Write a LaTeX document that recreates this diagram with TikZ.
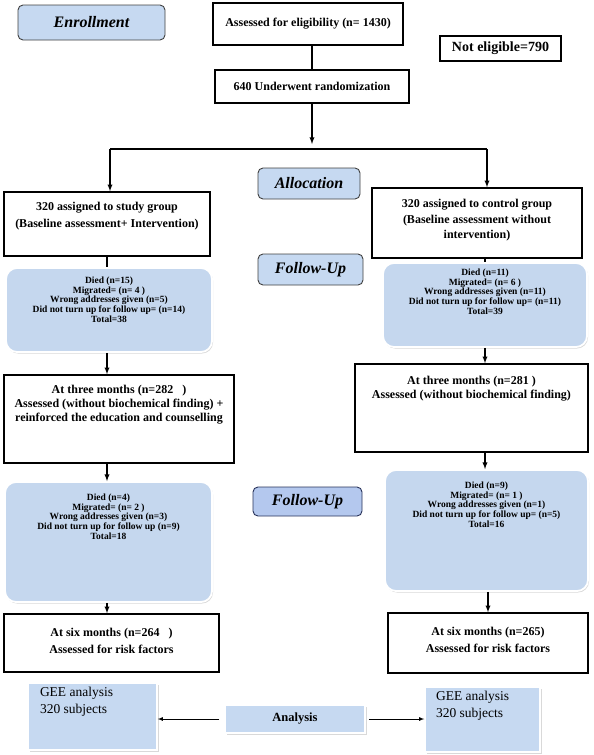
\documentclass[tikz,border=0pt]{standalone}
\usepackage{fontspec}
\setmainfont{Liberation Serif}[BoldFont={Liberation Serif Bold}, ItalicFont={Liberation Serif Italic}, BoldItalicFont={Liberation Serif Bold Italic}]
\usepackage{xcolor}
\usepackage{tikz}
\usetikzlibrary{positioning, shapes, calc, arrows, shadows}
\definecolor{paleblue}{RGB}{198,217,241}
\definecolor{noteblue}{RGB}{197,215,238}
\definecolor{deepblue}{RGB}{180,200,238}
\definecolor{navyline}{RGB}{40,50,90}

\newcommand{\topbox}[4]{\parbox[c][#2][t]{#1}{\centering\vspace*{#3}#4}}
\newcommand{\leftbox}[4]{\parbox[c][#2][t]{#1}{\raggedright\vspace*{#3}#4}}

\begin{document}
\begin{tikzpicture}[x=1pt, y=-1pt,
	plain/.style={draw, line width=1.6pt, inner sep=0pt, fill=white, font=\fontsize{12}{15}\selectfont\bfseries},
	phase/.style={draw=black!75, line width=0.9pt, rounded corners=5pt, fill=paleblue, inner sep=0pt, font=\fontsize{16}{18}\selectfont\bfseries\itshape},
	note/.style={draw=white, line width=1.8pt, rounded corners=11pt, fill=noteblue, inner sep=0pt, drop shadow={shadow xshift=1pt, shadow yshift=-1.5pt, opacity=0.3}, font=\fontsize{9.5}{7}\selectfont\bfseries},
	gee/.style={draw=white, line width=1.5pt, fill=paleblue, inner sep=0pt, drop shadow={shadow xshift=1.5pt, shadow yshift=-1.5pt, opacity=0.3}, font=\fontsize{13.5}{17}\selectfont},
	arr/.style={-latex, line width=1.3pt},
	link/.style={line width=1.3pt},
	thinarr/.style={-latex, line width=0.8pt}]
	\useasboundingbox (0,0) rectangle (594,755);
	
	\node[phase, minimum width=147pt, minimum height=35pt] (enroll) at (91.5,22.5) {Enrollment};
	\node[plain, minimum width=190pt, minimum height=42pt] (assess) at (308,24) {Assessed for eligibility (n= 1430)};
	\node[plain, line width=1.2pt, minimum width=121pt, minimum height=25pt, font=\fontsize{14}{16}\selectfont\bfseries] (excluded) at (500.5,48.5) {Not eligible=790};
	\node[plain, minimum width=194pt, minimum height=33pt] (random) at (312,86.5) {640 Underwent randomization};
	\node[phase, minimum width=102pt, minimum height=31pt] (alloc) at (309,183.5) {Allocation};
	
	\node[plain] (study) at (107,224) {\topbox{206pt}{64pt}{10pt}{320 assigned to study group\\[2pt](Baseline assessment+ Intervention)}};
	\node[plain] (control) at (477,223) {\topbox{210pt}{70pt}{11pt}{320 assigned to control group\\[1pt](Baseline assessment without\\intervention)}};
	
	\node[phase, minimum width=105pt, minimum height=31pt] (follow) at (310.5,269.5) {Follow-Up};
	\node[note] (lossA) at (109,310) {\topbox{206pt}{84pt}{9pt}{Died (n=15)\\Migrated= (n= 4 )\\Wrong addresses given (n=5)\\Did not turn up for follow up= (n=14)\\Total=38}};
	\node[note] (lossB) at (485,305) {\topbox{204pt}{84pt}{6pt}{Died (n=11)\\Migrated= (n= 6 )\\Wrong addresses given (n=11)\\Did not turn up for follow up= (n=11)\\Total=39}};
	
	\node[plain, font=\fontsize{12}{14}\selectfont\bfseries] (threeA) at (119,419) {\topbox{230pt}{88pt}{10pt}{At three months (n=282\ \ \ )\\Assessed (without biochemical finding) +\\reinforced the education and counselling}};
	\node[plain, font=\fontsize{12}{14}\selectfont\bfseries] (threeB) at (471.5,408) {\topbox{233pt}{88pt}{12pt}{At three months (n=281 )\\Assessed (without biochemical finding)}};
	
	\node[phase, draw=navyline, fill=deepblue, minimum width=109pt, minimum height=29pt] (followB) at (307.5,501.5) {Follow-Up};
	\node[note] (lossC) at (108.5,542) {\topbox{207pt}{120pt}{12pt}{Died (n=4)\\Migrated= (n= 2 )\\Wrong addresses given (n=3)\\Did not turn up for follow up (n=9)\\Total=18}};
	\node[note] (lossD) at (486.5,530.5) {\topbox{203pt}{121pt}{12pt}{Died (n=9)\\Migrated= (n= 1 )\\Wrong addresses given (n=1)\\Did not turn up for follow up= (n=5)\\Total=16}};
	
	\node[plain, font=\fontsize{12}{17}\selectfont\bfseries] (sixA) at (111.5,643) {\topbox{215pt}{58pt}{14pt}{At six months (n=264\ \ \ )\\Assessed for risk factors}};
	\node[plain, font=\fontsize{12}{17}\selectfont\bfseries] (sixB) at (488,643) {\topbox{200pt}{60pt}{14pt}{At six months (n=265)\\Assessed for risk factors}};
	
	\node[gee] (geeA) at (92.5,716.5) {\hspace*{12pt}\leftbox{117pt}{67pt}{4pt}{GEE analysis\\320 subjects}};
	\node[gee] (geeB) at (482.5,719.5) {\hspace*{11pt}\leftbox{104pt}{65pt}{4pt}{GEE analysis\\320 subjects}};
	\node[gee, minimum width=140pt, minimum height=28pt, font=\fontsize{12.5}{14}\selectfont\bfseries] (analysis) at (295,719) {Analysis};
	
	\coordinate (drop) at (312,144);
	\coordinate (splitA) at (110,149);
	\coordinate (splitB) at (487,149);
	
	\draw[link] (random.north) -- (random.north |- assess.south);
	\draw[arr] (random) -- (drop);
	\draw[link] (splitA) -- (splitB);
	\draw[arr] (splitA) -- (splitA |- study.north);
	\draw[arr] (splitB) -- (splitB |- control.north);
	
	\draw[link] (study.south) -- (study.south |- lossA.north);
	\draw[arr] (study.south |- lossA.south) -- (study.south |- threeA.north);
	\draw[arr] (study.south |- threeA.south) -- (study.south |- lossC.north);
	\draw[arr] (study.south |- lossC.south) -- (study.south |- sixA.north);
	
	\draw[link] (lossB.north |- control.south) -- (lossB.north);
	\draw[arr] (lossB.south) -- (lossB.south |- threeB.north);
	\draw[arr] (lossB.south |- threeB.south) -- (lossB.south |- lossD.north);
	\draw[arr] (lossD.south -| sixB.north) -- (sixB.north);
	
	\draw[thinarr, shorten <=5pt] (analysis.west) -- (analysis.west -| geeA.east);
	\draw[thinarr, shorten <=3pt] (analysis.east) -- (analysis.east -| geeB.west);
\end{tikzpicture}
\end{document}
